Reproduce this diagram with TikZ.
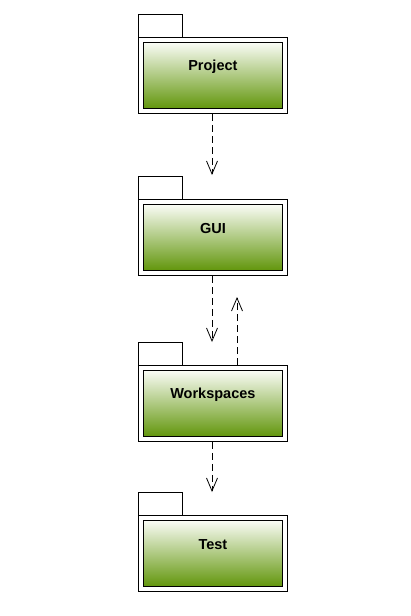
\documentclass[tikz,border=0pt]{standalone}
\usepackage{fontspec}
\setmainfont{Liberation Sans}
\usetikzlibrary{arrows.meta}
\definecolor{pkggreen}{RGB}{98,150,12}
\definecolor{pkgtop}{RGB}{250,252,246}
\tikzset{
  pkgtab/.style={draw=black, line width=0.8pt, fill=white},
  pkgouter/.style={draw=black, line width=0.8pt, fill=white, minimum width=149pt, minimum height=76pt, anchor=north west, inner sep=0pt},
  pkginner/.style={draw=black, line width=0.8pt, top color=pkgtop, bottom color=pkggreen, minimum width=139pt, minimum height=66pt, inner sep=0pt},
  pkglabel/.style={font=\bfseries\fontsize{14.5}{17}\selectfont, text=black},
  dep/.style={draw=black, line width=0.8pt, dash pattern=on 7pt off 4pt, -{Straight Barb[length=13pt, width=11pt, line width=0.8pt]}}
}
\begin{document}
\begin{tikzpicture}[x=1pt, y=-1pt]
\useasboundingbox (0,0) rectangle (411,616);
% packages
\foreach \nm/\ty/\txt in {proj/14/Project, gui/176/GUI, ws/342/Workspaces, test/492/Test}{
  \draw[pkgtab] (138,\ty) rectangle (182,\ty+23);
  \node[pkgouter] (\nm) at (138,\ty+23) {};
  \node[pkginner] (\nm in) at (\nm.center) {};
  \node[pkglabel] (\nm lbl) at ([yshift=-24.5pt]\nm in.north) {\txt};
}
% dependencies
\coordinate (pg) at (212,175);
\coordinate (gw) at (212,342);
\coordinate (wg) at (237,297);
\coordinate (wt) at (212,492);
\draw[dep] (proj.south -| pg) -- (pg);
\draw[dep] (gui.south -| gw) -- (gw);
\draw[dep] (ws.north -| wg) -- (wg);
\draw[dep] (ws.south -| wt) -- (wt);
\end{tikzpicture}
\end{document}
